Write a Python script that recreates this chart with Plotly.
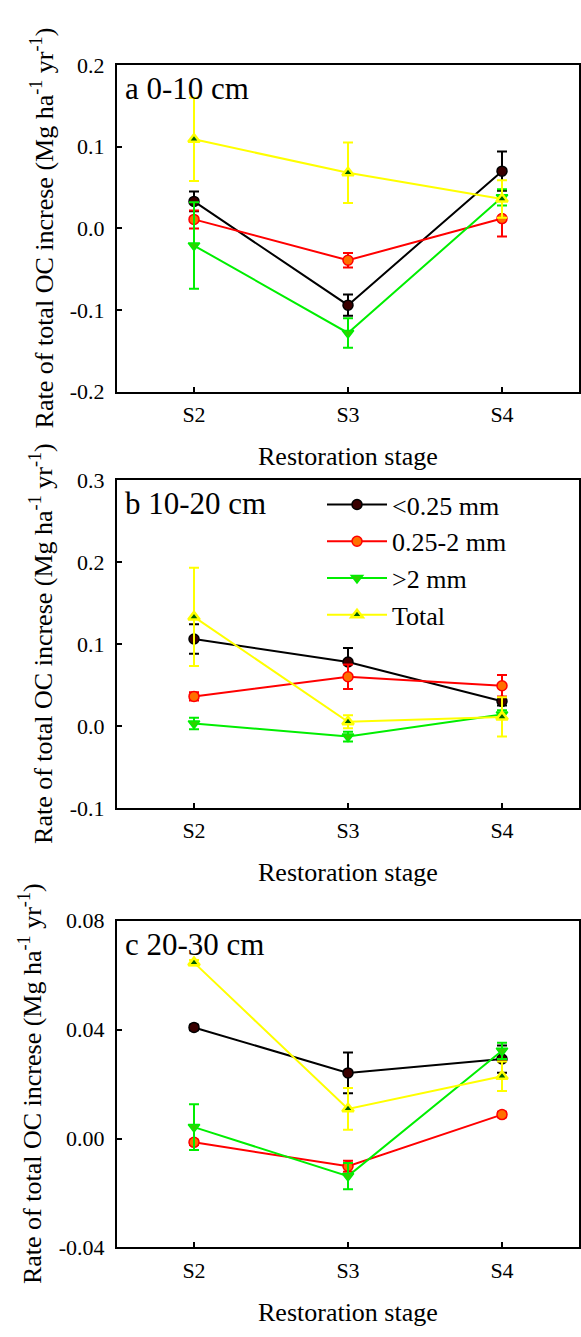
import plotly.graph_objects as go

# ---------------- data ----------------
stages = ["S2", "S3", "S4"]
series_names = ["<0.25 mm", "0.25-2 mm", ">2 mm", "Total"]

# panel a: 0-10 cm
fine_a = [0.033, -0.094, 0.070]
fine_a_err = [0.012, 0.013, 0.024]
mid_a = [0.011, -0.039, 0.012]
mid_a_err = [0.011, 0.009, 0.022]
coarse_a = [-0.021, -0.128, 0.038]
coarse_a_err = [0.053, 0.018, 0.010]
total_a = [0.109, 0.068, 0.036]
total_a_err = [0.051, 0.037, 0.023]

# panel b: 10-20 cm
fine_b = [0.106, 0.078, 0.030]
fine_b_err = [0.018, 0.017, 0.005]
mid_b = [0.036, 0.060, 0.049]
mid_b_err = [0.005, 0.015, 0.013]
coarse_b = [0.003, -0.013, 0.014]
coarse_b_err = [0.007, 0.006, 0.005]
total_b = [0.133, 0.005, 0.011]
total_b_err = [0.060, 0.008, 0.024]

# panel c: 20-30 cm
fine_c = [0.0408, 0.0241, 0.0292]
fine_c_err = [0.0010, 0.0075, 0.0050]
mid_c = [-0.0014, -0.0102, 0.0088]
mid_c_err = [0.0010, 0.0020, 0.0010]
coarse_c = [0.0042, -0.0138, 0.0322]
coarse_c_err = [0.0084, 0.0048, 0.0030]
total_c = [0.0646, 0.0109, 0.0229]
total_c_err = [0.0010, 0.0077, 0.0054]

# tick labels
ytick_a_vals = [-0.2, -0.1, 0.0, 0.1, 0.2]
ytick_a_text = ["-0.2", "-0.1", "0.0", "0.1", "0.2"]
ytick_b_vals = [-0.1, 0.0, 0.1, 0.2, 0.3]
ytick_b_text = ["-0.1", "0.0", "0.1", "0.2", "0.3"]
ytick_c_vals = [-0.04, 0.0, 0.04, 0.08]
ytick_c_text = ["-0.04", "0.00", "0.04", "0.08"]

panel_labels = ["a 0-10 cm", "b 10-20 cm", "c 20-30 cm"]
y_title = "Rate of total OC increse (Mg ha<sup>-1</sup> yr<sup>-1</sup>)"
x_title = "Restoration stage"

# ---------------- styling ----------------
FONT = "Liberation Serif, Times New Roman, serif"
W, H = 581, 1337
styles = [
    dict(line="#000000", fill="#3a0000", symbol="circle", size=10, lw=1.5),
    dict(line="#ff0000", fill="#ff7000", symbol="circle", size=10, lw=1.5),
    dict(line="#00ee00", fill="#30d000", symbol="triangle-down", size=10, lw=1.5),
    dict(line="#ffff00", fill="#006000", symbol="triangle-up", size=10, lw=2.5),
]

panels = [
    ([fine_a, mid_a, coarse_a, total_a], [fine_a_err, mid_a_err, coarse_a_err, total_a_err]),
    ([fine_b, mid_b, coarse_b, total_b], [fine_b_err, mid_b_err, coarse_b_err, total_b_err]),
    ([fine_c, mid_c, coarse_c, total_c], [fine_c_err, mid_c_err, coarse_c_err, total_c_err]),
]

# pixel boxes (top, bottom) of each panel
boxes = [(54, 387), (477, 811), (926, 1259)]
x_left, x_right = 117, 579

fig = go.Figure()
for p, (vals, errs) in enumerate(panels):
    suffix = "" if p == 0 else str(p + 1)
    for s, (v, e) in enumerate(zip(vals, errs)):
        st = styles[s]
        fig.add_trace(go.Scatter(
            x=stages, y=v,
            mode="lines+markers",
            name=series_names[s],
            legendgroup=series_names[s],
            showlegend=(p == 1),
            line=dict(color=st["line"], width=2),
            marker=dict(symbol=st["symbol"], size=st["size"], color=st["fill"],
                        line=dict(color=st["line"], width=st["lw"])),
            error_y=dict(type="data", array=e, visible=True, color=st["line"],
                         thickness=2, width=5),
            xaxis="x" + suffix, yaxis="y" + suffix,
        ))

def ydom(top, bottom):
    return [1 - bottom / H, 1 - top / H]

axis_common = dict(showline=True, mirror=True, linecolor="black", linewidth=2,
                   ticks="inside", ticklen=5, tickwidth=1.5, tickcolor="black",
                   showgrid=False, zeroline=False,
                   tickfont=dict(family=FONT, size=22, color="black"))

ytick_sets = [(ytick_a_vals, ytick_a_text, [-0.2, 0.2]),
              (ytick_b_vals, ytick_b_text, [-0.1, 0.3]),
              (ytick_c_vals, ytick_c_text, [-0.04, 0.08])]

layout_axes = {}
for p in range(3):
    suffix = "" if p == 0 else str(p + 1)
    top, bottom = boxes[p]
    layout_axes["xaxis" + suffix] = dict(
        axis_common, domain=[x_left / W, x_right / W], anchor="y" + suffix,
        type="category", categoryorder="array", categoryarray=stages,
        range=[-0.5, 2.5], ticklabelstandoff=2)
    tv, tt, rng = ytick_sets[p]
    layout_axes["yaxis" + suffix] = dict(
        axis_common, domain=ydom(top, bottom), anchor="x" + suffix,
        range=rng, tickvals=tv, ticktext=tt, ticklabelstandoff=6)

annotations = []
ytitle_x = [42, 42, 30]
for p in range(3):
    top, bottom = boxes[p]
    # panel label
    annotations.append(dict(text=panel_labels[p], xref="paper", yref="paper",
                            x=123 / W, y=1 - (top + 24) / H, xanchor="left", yanchor="middle",
                            showarrow=False, font=dict(family=FONT, size=31, color="black")))
    # y title
    annotations.append(dict(text=y_title, xref="paper", yref="paper",
                            x=ytitle_x[p] / W, y=1 - ((top + bottom) / 2) / H,
                            xanchor="center", yanchor="middle", textangle=-90,
                            showarrow=False, font=dict(family=FONT, size=26, color="black")))
    # x title
    annotations.append(dict(text=x_title, xref="paper", yref="paper",
                            x=348 / W, y=1 - (bottom + 66) / H,
                            xanchor="center", yanchor="middle",
                            showarrow=False, font=dict(family=FONT, size=26, color="black")))

fig.update_layout(
    width=W, height=H,
    margin=dict(l=0, r=0, t=0, b=0),
    paper_bgcolor="white", plot_bgcolor="white",
    font=dict(family=FONT, color="black"),
    showlegend=True,
    legend=dict(x=322 / W, y=1 - 478 / H, xanchor="left", yanchor="top",
                bgcolor="rgba(0,0,0,0)", borderwidth=0,
                font=dict(family=FONT, size=26, color="black"),
                itemwidth=60, tracegroupgap=0),
    annotations=annotations,
    **layout_axes,
)

fig.write_html("out.html")
